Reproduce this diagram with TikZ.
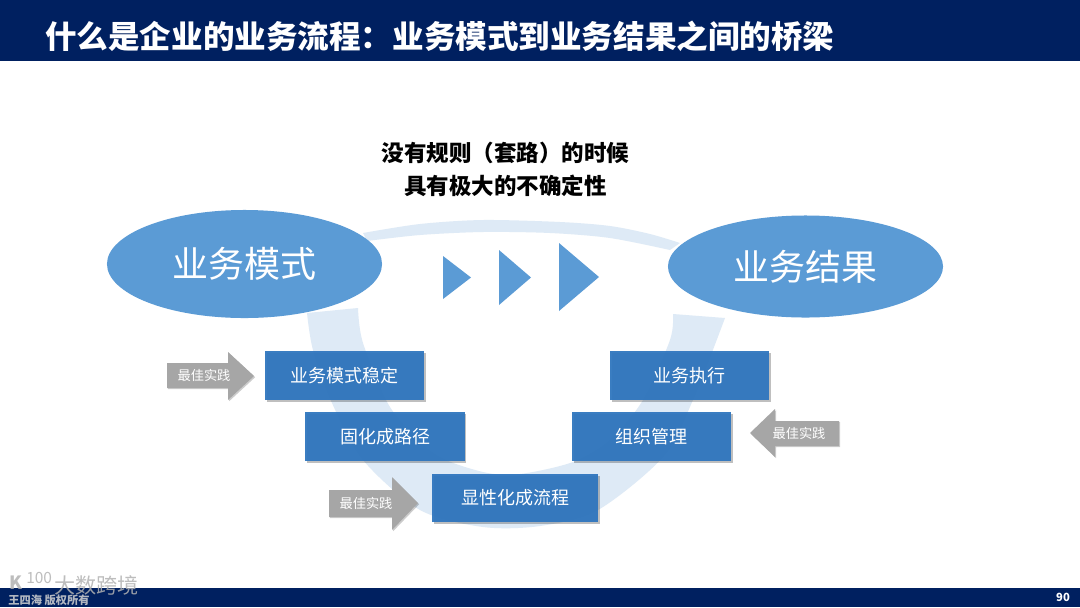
\documentclass[tikz,border=0pt]{standalone}
\usepackage{fontspec}
\setmainfont{Noto Sans CJK SC}
\usepackage{xcolor}
\usepackage{tikz}
\usetikzlibrary{shadows,shapes.geometric}

\definecolor{navybar}{HTML}{002060}
\definecolor{ovalblue}{HTML}{5B9BD5}
\definecolor{boxblue}{HTML}{2E75BE}
\definecolor{bandblue}{HTML}{DEEAF6}
\definecolor{arrowgray}{HTML}{A6A6A6}

\begin{document}
\begin{tikzpicture}[
  x=0.025cm, y=-0.025cm,
  bar/.style={fill=navybar},
  band/.style={fill=bandblue},
  oval/.style={draw=none, fill=ovalblue, ellipse, text=white,
    font=\fontsize{25.6pt}{28pt}\selectfont},
  chevron/.style={fill=ovalblue},
  stage/.style={fill=boxblue, fill opacity=0.94, text opacity=1, text=white,
    minimum width=3.975cm, minimum height=1.225cm, inner sep=0pt,
    font=\fontsize{12.8pt}{15pt}\selectfont,
    drop shadow={shadow xshift=0.04cm, shadow yshift=-0.04cm, opacity=0.25, fill=black}},
  pointer/.style={fill=arrowgray,
    drop shadow={shadow xshift=0.03cm, shadow yshift=-0.03cm, opacity=0.2, fill=black}},
  pointertext/.style={text=white, inner sep=0pt, font=\fontsize{9.4pt}{11pt}\selectfont},
  heading/.style={text=white, inner sep=0pt, anchor=west, font=\bfseries\fontsize{22.45pt}{26pt}\selectfont},
  note/.style={align=center, text=black, inner sep=0pt,
    font=\bfseries\fontsize{16pt}{23.5pt}\selectfont},
  stamp/.style={text=gray!60, text opacity=0.85, inner sep=0pt, anchor=west}
]
\useasboundingbox (0,0) rectangle (1080,607);
\fill[white] (0,0) rectangle (1080,607);

% header and footer
\fill[bar] (0,0) rectangle (1080,61);
\fill[bar] (0,588) rectangle (1080,607);
\node[heading] (title) at (45,36) {什么是企业的业务流程^^^^ff1a业务模式到业务结果之间的桥梁};
\node[text=white, inner sep=0pt, font=\bfseries\fontsize{8pt}{9pt}\selectfont] (page) at (1063,597) {90};

% curved band behind the boxes
\fill[band] plot[smooth] coordinates {(363,233) (420,224) (483,220) (560,222) (610,226) (650,234) (680,243)}
  -- plot[smooth] coordinates {(670,250) (610,238) (550,233) (483,232) (420,235) (367,241)} -- cycle;
\fill[band] plot[smooth] coordinates {(307,313) (313,350) (332,403) (363,460) (420,510) (483,527) (540,526) (598,510) (663,457) (693,400) (725,318)}
  -- plot[smooth] coordinates {(673,314) (670,340) (643,400) (610,440) (573,462) (520,474) (483,472) (433,453) (390,407) (363,343) (358,308)} -- cycle;

\node[oval, minimum width=6.875cm, minimum height=2.7cm, inner sep=0pt] (model) at (244.5,264) {业务模式};
\node[oval, minimum width=6.875cm, minimum height=2.55cm, inner sep=0pt] (result) at (805.5,266.5) {业务结果};

\node[note] (question) at (505.5,169.5) {没有规则^^^^ff08套路^^^^ff09的时候\\具有极大的不确定性};

\fill[chevron] (443,256) -- (471,277.5) -- (443,299) -- cycle;
\fill[chevron] (499,250) -- (531,277.5) -- (499,305) -- cycle;
\fill[chevron] (559,243) -- (599,277) -- (559,311) -- cycle;

\node[stage] (stable) at (344.5,375.5) {业务模式稳定};
\node[stage] (route) at (385,436.5) {固化成路径};
\node[stage, minimum width=4.15cm, minimum height=1.2cm] (flow) at (515,498) {显性化成流程};
\node[stage] (exec) at (689.5,375.5) {业务执行};
\node[stage] (org) at (651.5,436.5) {组织管理};

% best practice arrows
\fill[pointer] (167,363) -- (228,363) -- (228,352) -- (254,376) -- (228,400) -- (228,388) -- (167,388) -- cycle;
\node[pointertext] (bestleft) at (204,375) {最佳实践};
\fill[pointer] (329,490) -- (392,490) -- (392,477) -- (418,503) -- (392,530) -- (392,517) -- (329,517) -- cycle;
\node[pointertext] (bestlow) at (366,503) {最佳实践};
\fill[pointer] (839,421) -- (775,421) -- (775,409) -- (750,433) -- (775,457) -- (775,446) -- (839,446) -- cycle;
\node[pointertext] (bestright) at (799,433) {最佳实践};

% watermark
\node[stamp, font=\bfseries\fontsize{13pt}{15pt}\selectfont] (logok) at (9,583) {K};
\node[stamp, font=\fontsize{11pt}{13pt}\selectfont] (logonum) at (26,578) {100};
\node[stamp, font=\fontsize{15pt}{17pt}\selectfont] (brand) at (54,585) {大数跨境};
\node[stamp, text=gray!35, font=\bfseries\fontsize{8pt}{9pt}\selectfont] (owner) at (8,600) {王四海 版权所有};
\end{tikzpicture}
\end{document}
